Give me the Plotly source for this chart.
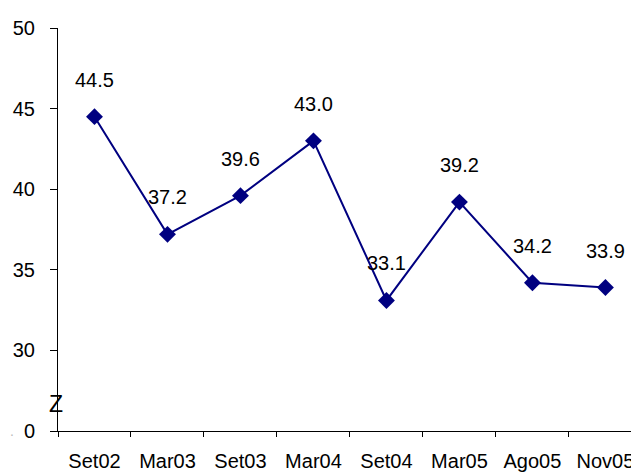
import plotly.graph_objects as go

categories = ["Set02", "Mar03", "Set03", "Mar04", "Set04", "Mar05", "Ago05", "Nov05"]
values = [44.5, 37.2, 39.6, 43.0, 33.1, 39.2, 34.2, 33.9]
labels = ["44.5", "37.2", "39.6", "43.0", "33.1", "39.2", "34.2", "33.9"]

# broken axis: "0" is drawn at the bottom of the visible 25..50 range
y_tickvals = [25, 30, 35, 40, 45, 50]
y_ticktext = ["0", "30", "35", "40", "45", "50"]

FONT = "Liberation Sans, Arial, sans-serif"
NAVY = "#000080"

fig = go.Figure()
fig.add_trace(go.Scatter(
    x=categories, y=values, mode="lines+markers",
    line=dict(color=NAVY, width=2),
    marker=dict(symbol="diamond", size=13, color=NAVY),
    hoverinfo="skip", showlegend=False, cliponaxis=False,
))

for c, v, t in zip(categories, values, labels):
    fig.add_annotation(x=c, y=v, text=t, showarrow=False, yshift=37,
                       xanchor="center", yanchor="middle",
                       font=dict(family=FONT, size=20, color="black"))

fig.add_annotation(xref="paper", yref="paper", x=-0.004, y=0.068, text="Z",
                   showarrow=False, xanchor="center", yanchor="middle",
                   font=dict(family=FONT, size=23, color="black"))
fig.add_annotation(xref="paper", yref="paper", x=-0.079, y=0.0, text=".",
                   showarrow=False, xanchor="center", yanchor="middle",
                   font=dict(family=FONT, size=14, color="#bbbbbb"))

# the page body has an 8px margin, so the figure is sized to end at the window edge
fig.update_layout(
    width=631, height=465,
    margin=dict(l=50, r=0, t=20, b=42),
    paper_bgcolor="white", plot_bgcolor="white",
    font=dict(family=FONT, size=20, color="black"),
    xaxis=dict(
        type="category", range=[-0.5, 7.46], automargin=False,
        showline=True, linecolor="black", linewidth=1,
        ticks="outside", tickson="boundaries", ticklen=5, tickcolor="black",
        showgrid=False, zeroline=False, ticklabelstandoff=12,
        tickfont=dict(family=FONT, size=20, color="black"),
    ),
    yaxis=dict(
        range=[25, 50], tickvals=y_tickvals, ticktext=y_ticktext, automargin=False,
        showline=True, linecolor="black", linewidth=1,
        ticks="outside", ticklen=7, tickcolor="black",
        showgrid=False, zeroline=False, ticklabelstandoff=11,
        tickfont=dict(family=FONT, size=20, color="black"),
    ),
)

fig.write_html("out.html")
